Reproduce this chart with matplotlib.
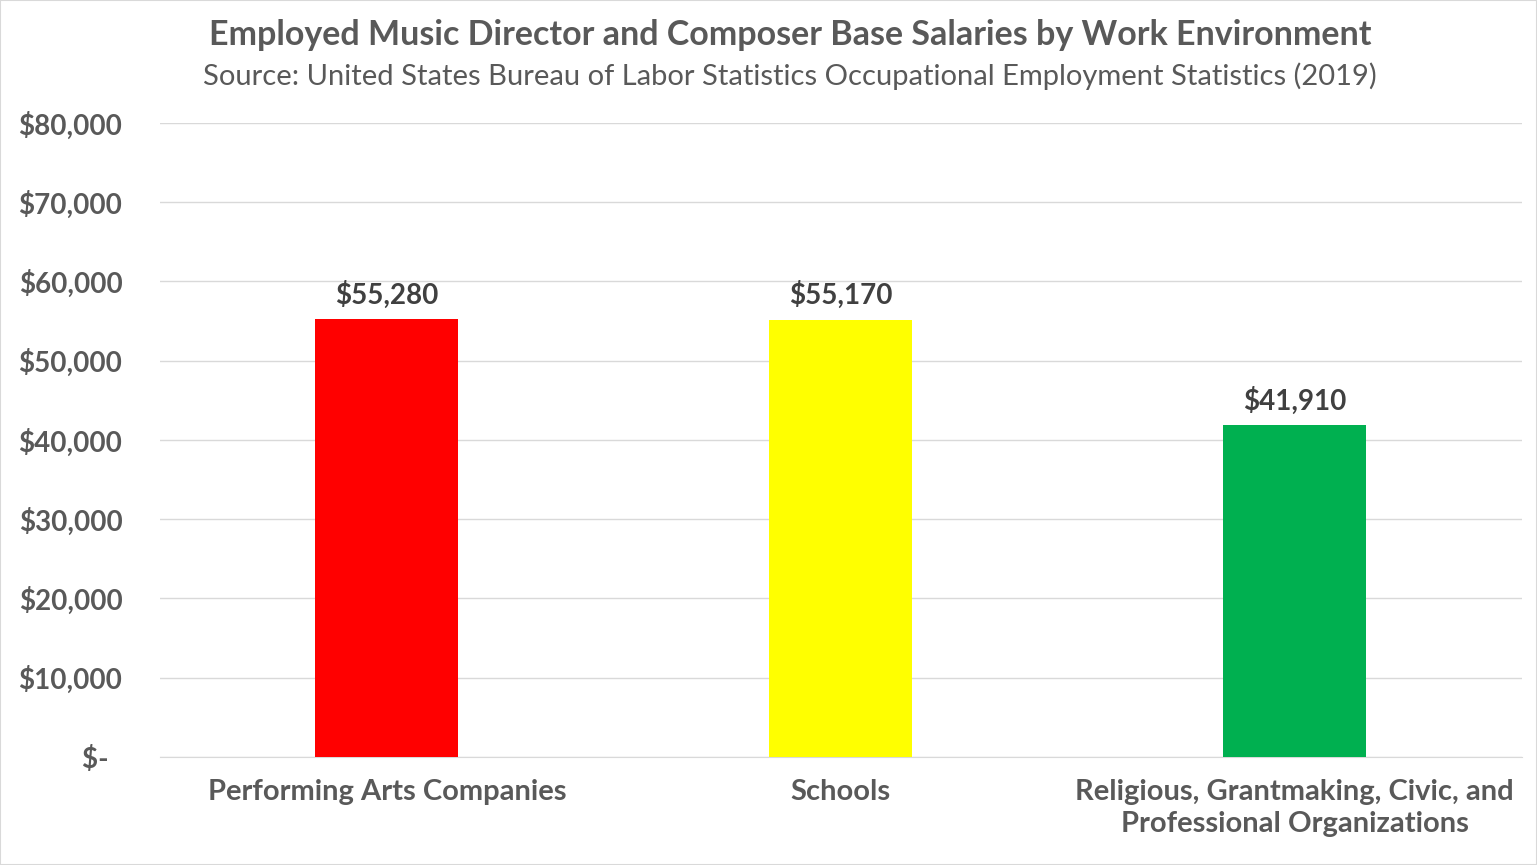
import matplotlib
matplotlib.use("Agg")
import matplotlib.pyplot as plt
from matplotlib.ticker import FuncFormatter

categories = ["Performing Arts Companies", "Schools", "Religious, Grantmaking, Civic, and\nProfessional Organizations"]
salaries = [55280, 55170, 41910]
colors = ["#FF0000", "#FFFF00", "#00B050"]
yticks = list(range(0, 80001, 10000))

plt.rcParams["font.family"] = "Lato"
gray = "#595959"
fig = plt.figure(figsize=(15.37, 8.65), dpi=100)
ax = fig.add_axes([0.104, 0.125, 0.886, 0.733])
x = range(len(categories))
ax.bar(x, salaries, width=0.315, color=colors, zorder=3)
for xi, v in zip(x, salaries):
    ax.text(xi, v + 1300, f"${v:,}", ha="center", va="bottom", fontsize=20, fontweight="bold", color="#404040")
ax.set_ylim(0, 80000)
ax.set_xlim(-0.5, 2.5)
ax.set_yticks(yticks)
ax.yaxis.set_major_formatter(FuncFormatter(lambda v, p: "$-  " if v == 0 else f"${int(v):,}"))
ax.set_xticks(list(x))
ax.set_xticklabels(categories, fontsize=21, fontweight="bold", color=gray, linespacing=1.3)
for t in ax.get_yticklabels():
    t.set_fontsize(20); t.set_fontweight("bold"); t.set_color(gray)
ax.tick_params(axis="x", length=0, pad=16)
ax.tick_params(axis="y", length=0, pad=27)
ax.grid(axis="y", color="#D9D9D9", linewidth=1, zorder=0)
for s in ["top", "right", "left"]:
    ax.spines[s].set_visible(False)
ax.spines["bottom"].set_color("#D9D9D9")
fig.text(0.514, 0.960, "Employed Music Director and Composer Base Salaries by Work Environment",
         ha="center", va="center", fontsize=24.5, fontweight="bold", color=gray)
fig.text(0.514, 0.912, "Source: United States Bureau of Labor Statistics Occupational Employment Statistics (2019)",
         ha="center", va="center", fontsize=21, color=gray)
fig.patches.append(matplotlib.patches.Rectangle((0, 0), 1, 1, transform=fig.transFigure, fill=False, edgecolor="#D9D9D9", linewidth=1.5))
fig.savefig("out.png", dpi=100)
